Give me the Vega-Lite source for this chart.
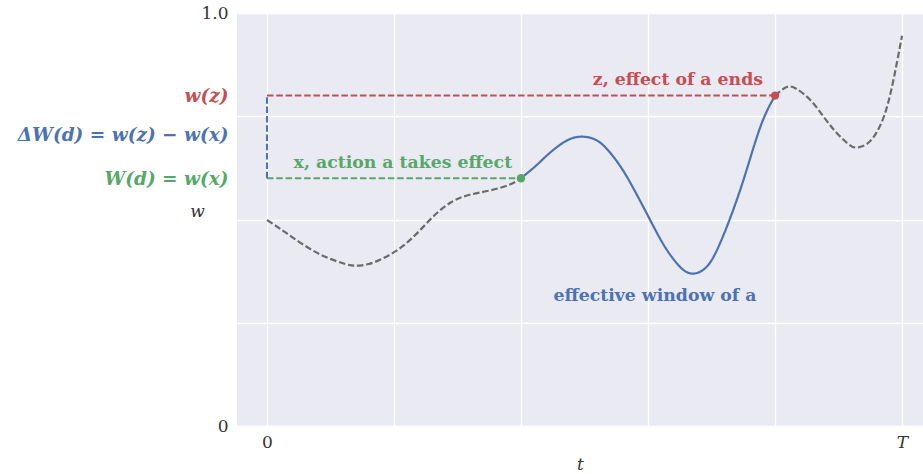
{
  "$schema": "https://vega.github.io/schema/vega-lite/v6.json",
  "width": 686,
  "height": 413,
  "autosize": "none",
  "padding": {"left": 237, "top": 13, "right": 0, "bottom": 48},
  "background": "white",
  "config": {
    "view": {"fill": "#EAEAF2", "stroke": null},
    "font": "DejaVu Serif",
    "axis": {"domain": false, "ticks": false, "gridColor": "white", "gridWidth": 1.3, "labelFont": "DejaVu Serif", "titleFont": "DejaVu Serif", "labelColor": "#333333", "titleColor": "#333333", "labelFontSize": 17, "titleFontSize": 17, "titleFontWeight": "normal", "titleFontStyle": "italic", "labelLimit": 0}
  },
  "datasets": {
    "curve": [
      {"t": 0.0, "w": 0.4988, "part": "before"},
      {"t": 0.118, "w": 0.4746, "part": "before"},
      {"t": 0.223, "w": 0.4521, "part": "before"},
      {"t": 0.354, "w": 0.4262, "part": "before"},
      {"t": 0.486, "w": 0.4061, "part": "before"},
      {"t": 0.617, "w": 0.3923, "part": "before"},
      {"t": 0.695, "w": 0.3881, "part": "before"},
      {"t": 0.801, "w": 0.3923, "part": "before"},
      {"t": 0.931, "w": 0.4085, "part": "before"},
      {"t": 1.063, "w": 0.4341, "part": "before"},
      {"t": 1.194, "w": 0.4705, "part": "before"},
      {"t": 1.325, "w": 0.5120, "part": "before"},
      {"t": 1.457, "w": 0.5431, "part": "before"},
      {"t": 1.588, "w": 0.5593, "part": "before"},
      {"t": 1.746, "w": 0.5697, "part": "before"},
      {"t": 1.903, "w": 0.5835, "part": "before"},
      {"t": 2.0, "w": 0.600, "part": "before"},
      {"t": 2.0, "w": 0.600, "part": "window"},
      {"t": 2.118, "w": 0.6303, "part": "window"},
      {"t": 2.223, "w": 0.6603, "part": "window"},
      {"t": 2.354, "w": 0.6901, "part": "window"},
      {"t": 2.472, "w": 0.7005, "part": "window"},
      {"t": 2.591, "w": 0.6925, "part": "window"},
      {"t": 2.695, "w": 0.6642, "part": "window"},
      {"t": 2.801, "w": 0.6199, "part": "window"},
      {"t": 2.906, "w": 0.5634, "part": "window"},
      {"t": 3.010, "w": 0.5029, "part": "window"},
      {"t": 3.116, "w": 0.4424, "part": "window"},
      {"t": 3.220, "w": 0.3964, "part": "window"},
      {"t": 3.33, "w": 0.3697, "part": "window"},
      {"t": 3.457, "w": 0.3840, "part": "window"},
      {"t": 3.561, "w": 0.4383, "part": "window"},
      {"t": 3.667, "w": 0.520, "part": "window"},
      {"t": 3.772, "w": 0.6157, "part": "window"},
      {"t": 3.890, "w": 0.7288, "part": "window"},
      {"t": 4.0, "w": 0.800, "part": "window"},
      {"t": 4.0, "w": 0.800, "part": "after"},
      {"t": 4.092, "w": 0.8208, "part": "after"},
      {"t": 4.171, "w": 0.816, "part": "after"},
      {"t": 4.276, "w": 0.790, "part": "after"},
      {"t": 4.380, "w": 0.7499, "part": "after"},
      {"t": 4.486, "w": 0.7094, "part": "after"},
      {"t": 4.591, "w": 0.6797, "part": "after"},
      {"t": 4.656, "w": 0.6748, "part": "after"},
      {"t": 4.748, "w": 0.6893, "part": "after"},
      {"t": 4.853, "w": 0.7458, "part": "after"},
      {"t": 4.931, "w": 0.836, "part": "after"},
      {"t": 5.0, "w": 0.945, "part": "after"}
    ],
    "refs": [
      {"t": 0, "w": 0.8, "t2": 4, "w2": 0.8, "kind": "z"},
      {"t": 0, "w": 0.6, "t2": 2, "w2": 0.6, "kind": "x"},
      {"t": 0, "w": 0.6, "t2": 0, "w2": 0.8, "kind": "d"}
    ],
    "points": [
      {"t": 2, "w": 0.6, "kind": "x"},
      {"t": 4, "w": 0.8, "kind": "z"}
    ],
    "notes": [
      {"t": 1.93, "w": 0.637, "label": "x, action a takes effect", "kind": "x", "anchor": "right"},
      {"t": 3.905, "w": 0.838, "label": "z, effect of a ends", "kind": "z", "anchor": "right"},
      {"t": 3.055, "w": 0.315, "label": "effective window of a", "kind": "d", "anchor": "center"}
    ]
  },
  "encoding": {
    "x": {
      "field": "t", "type": "quantitative",
      "scale": {"domain": [-0.236, 5.165], "nice": false, "zero": false},
      "axis": {"values": [0, 1, 2, 3, 4, 5], "title": "t", "labelPadding": 8, "titlePadding": 6,
        "labelExpr": "datum.value == 0 ? '0' : datum.value == 5 ? 'T' : ''",
        "labelFontStyle": {"condition": {"test": "datum.value == 5", "value": "italic"}, "value": "normal"}}
    },
    "y": {
      "field": "w", "type": "quantitative",
      "scale": {"domain": [0, 1], "nice": false},
      "axis": {
        "values": [0, 0.25, 0.5, 0.6, 0.707, 0.75, 0.8, 1],
        "labelOverlap": false,
        "labelPadding": 9,
        "labelExpr": "datum.value == 1 ? '1.0' : datum.value == 0 ? '0' : datum.value == 0.8 ? 'w(z)' : datum.value == 0.707 ? 'ΔW(d) = w(z) − w(x)' : datum.value == 0.6 ? 'W(d) = w(x)' : ''",
        "labelColor": {"condition": [
          {"test": "datum.value == 0.8", "value": "#C44E52"},
          {"test": "datum.value == 0.707", "value": "#4C72B0"},
          {"test": "datum.value == 0.6", "value": "#55A868"}
        ], "value": "#333333"},
        "labelFontWeight": {"condition": {"test": "datum.value > 0.55 && datum.value < 0.85", "value": "bold"}, "value": "normal"},
        "labelFontStyle": {"condition": {"test": "datum.value > 0.55 && datum.value < 0.85", "value": "italic"}, "value": "normal"},
        "labelFontSize": {"condition": {"test": "datum.value > 0.55 && datum.value < 0.85", "value": 18.5}, "value": 17},
        "gridOpacity": {"condition": {"test": "datum.value == 0.6 || datum.value == 0.707 || datum.value == 0.8", "value": 0}, "value": 1},
        "labelBaseline": "middle",
        "title": "w", "titleAngle": 0, "titleAlign": "center", "titleBaseline": "middle", "titleX": -40, "titleY": 198
      }
    },
    "color": {"field": "kind", "type": "nominal", "legend": null,
      "scale": {"domain": ["x", "z", "d", "before", "window", "after"], "range": ["#55A868", "#C44E52", "#4C72B0", "#6b6b6b", "#4C72B0", "#6b6b6b"]}}
  },
  "layer": [
    {
      "data": {"name": "refs"},
      "mark": {"type": "rule", "strokeWidth": 2, "strokeDash": [6.5, 2.8]},
      "encoding": {
        "x2": {"field": "t2"},
        "y2": {"field": "w2"}
      }
    },
    {
      "data": {"name": "curve"},
      "mark": {"type": "line", "interpolate": "natural", "strokeWidth": 2.2},
      "encoding": {
        "detail": {"field": "part", "type": "nominal"},
        "color": {"field": "part", "type": "nominal", "legend": null,
          "scale": {"domain": ["x", "z", "d", "before", "window", "after"], "range": ["#55A868", "#C44E52", "#4C72B0", "#6b6b6b", "#4C72B0", "#6b6b6b"]}},
        "strokeDash": {"field": "part", "type": "nominal", "scale": {"domain": ["before", "window", "after"], "range": [[6.5, 2.8], [1, 0], [6.5, 2.8]]}, "legend": null}
      }
    },
    {
      "data": {"name": "points"},
      "mark": {"type": "circle", "size": 70, "opacity": 1}
    },
    {
      "data": {"name": "notes"},
      "transform": [{"filter": "datum.anchor == 'right'"}],
      "mark": {"type": "text", "align": "right", "baseline": "middle", "fontSize": 17.3, "fontWeight": "bold", "font": "DejaVu Serif"},
      "encoding": {
        "text": {"field": "label"}
      }
    },
    {
      "data": {"name": "notes"},
      "transform": [{"filter": "datum.anchor == 'center'"}],
      "mark": {"type": "text", "align": "center", "baseline": "middle", "fontSize": 17.3, "fontWeight": "bold", "font": "DejaVu Serif"},
      "encoding": {
        "text": {"field": "label"}
      }
    }
  ]
}
